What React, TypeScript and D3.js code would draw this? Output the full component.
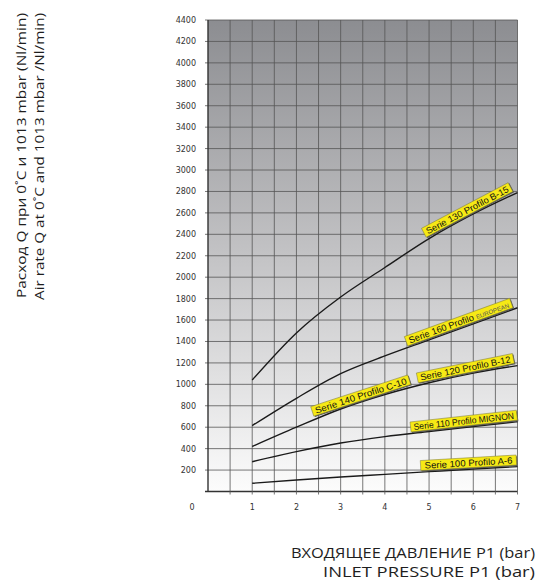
import React from 'react';
import * as d3 from 'd3';

const pressures = [1, 2, 3, 4, 5, 6, 7];
const serie130 = [1040, 1480, 1815, 2090, 2360, 2590, 2790];
const serie160 = [615, 870, 1100, 1265, 1415, 1565, 1715];
const serie120 = [420, 600, 770, 905, 1015, 1105, 1175];
const serie110 = [278, 372, 452, 512, 560, 606, 651];
const serie100 = [77, 107, 135, 160, 185, 210, 232];

const seriesList = [serie130, serie160, serie120, serie110, serie100];

const yTicks = d3.range(0, 4401, 200);
const xTicks = [0, 1, 2, 3, 4, 5, 6, 7];
const xGrid = d3.range(0.5, 7.01, 0.5);

const curveLabels = [
  { series: 0, main: 'Serie 130 Profilo B-15', small: '', at: 5.93, width: 98, tl: 92 },
  { series: 1, main: 'Serie 160 Profilo ', small: 'EUROPEAN', at: 5.72, width: 112, tl: 106 },
  { series: 2, main: 'Serie 120 Profilo B-12', small: '', at: 5.85, width: 98, tl: 92 },
  { series: 2, main: 'Serie 140 Profilo C-10', small: '', at: 3.5, width: 102, tl: 96 },
  { series: 3, main: 'Serie 110 Profilo MIGNON', small: '', at: 5.8, width: 107, tl: 101 },
  { series: 4, main: 'Serie 100 Profilo A-6', small: '', at: 5.9, width: 96, tl: 88 },
];

const yTitleLines = [
  'Расход Q при 0˚C и 1013 mbar (Nl/min)',
  'Air rate Q at 0˚C and 1013 mbar /Nl/min)',
];
const yTitleLengths = [285, 287];
const xTitleLines = ['ВХОДЯЩЕЕ ДАВЛЕНИЕ P1 (bar)', 'INLET PRESSURE P1 (bar)'];
const xTitleLengths = [244, 212];

export default function App() {
  const W = 537;
  const H = 584;
  const x = d3.scaleLinear().domain([0, 7]).range([208, 517.5]);
  const y = d3.scaleLinear().domain([0, 4400]).range([491.5, 20]);
  const line = d3
    .line<number>()
    .x((_, i) => x(pressures[i]))
    .y((d) => y(d))
    .curve(d3.curveMonotoneX);

  const valueAt = (s: number[], p: number) =>
    d3.scaleLinear().domain(pressures).range(s)(p);

  const tickFont = 'DejaVu Sans, sans-serif';
  const titleFont = 'Open Sans, Noto Sans, sans-serif';

  return (
    <svg
      width={W}
      height={H}
      style={{ position: 'absolute', left: 0, top: 0, background: '#fff' }}
    >
      <defs>
        <linearGradient id="bg" x1="0" y1="0" x2="0" y2="1">
          <stop offset="0" stopColor="#8c8d91" />
          <stop offset="0.5" stopColor="#c3c3c5" />
          <stop offset="1" stopColor="#fcfcfc" />
        </linearGradient>
      </defs>
      <rect
        x={x(0)}
        y={y(4400)}
        width={x(7) - x(0)}
        height={y(0) - y(4400)}
        fill="url(#bg)"
      />
      {/* horizontal grid */}
      {yTicks.map((t) => (
        <line
          key={'h' + t}
          x1={x(0) - 3}
          x2={x(7)}
          y1={y(t)}
          y2={y(t)}
          stroke={t === 0 ? '#333' : '#555'}
          strokeWidth={t === 0 ? 1.4 : 0.8}
        />
      ))}
      {/* vertical grid */}
      {xGrid.map((t) => (
        <line
          key={'v' + t}
          x1={x(t)}
          x2={x(t)}
          y1={y(4400)}
          y2={y(0) + 3}
          stroke="#555"
          strokeWidth={0.8}
        />
      ))}
      <line x1={x(0)} x2={x(0)} y1={y(4400)} y2={y(0)} stroke="#333" strokeWidth={1.4} />

      {/* y tick labels */}
      {yTicks.filter((t) => t > 0).map((t) => (
        <text
          key={'yl' + t}
          x={196}
          y={y(t) + 3}
          textAnchor="end"
          fontFamily={tickFont}
          fontSize={8}
          fill="#333"
        >
          {t}
        </text>
      ))}
      {/* x tick labels */}
      {xTicks.map((t) => (
        <text
          key={'xl' + t}
          x={t === 0 ? x(0) - 16 : x(t)}
          y={510}
          textAnchor="middle"
          fontFamily={tickFont}
          fontSize={8}
          fill="#333"
        >
          {t}
        </text>
      ))}

      {/* curves */}
      {seriesList.map((s, i) => (
        <path key={'c' + i} d={line(s) || ''} fill="none" stroke="#1a1a1a" strokeWidth={1.4} />
      ))}

      {/* curve labels */}
      {curveLabels.map((l, i) => {
        const s = seriesList[l.series];
        const px = x(l.at);
        const py = y(valueAt(s, l.at));
        const x1 = x(l.at - 0.4);
        const y1 = y(valueAt(s, l.at - 0.4));
        const x2 = x(l.at + 0.4);
        const y2 = y(valueAt(s, l.at + 0.4));
        const ang = (Math.atan2(y2 - y1, x2 - x1) * 180) / Math.PI;
        const h = 10;
        const off = 6.5;
        return (
          <g key={'lb' + i} transform={`translate(${px},${py}) rotate(${ang})`}>
            <rect x={-l.width / 2 + 0.8} y={-off - h / 2 + 1.2} width={l.width} height={h} fill="#555" />
            <rect x={-l.width / 2} y={-off - h / 2} width={l.width} height={h} fill="#f6e915" stroke="#7a7840" strokeWidth={0.5} />
            <text
              x={0}
              y={-off + 3.3}
              textAnchor="middle"
              fontFamily="Liberation Sans, Arial, sans-serif"
              fontSize={9}
              fill="#111"
              textLength={l.tl}
              lengthAdjust="spacingAndGlyphs"
            >
              {l.main}
              {l.small ? (
                <tspan fontSize={6} fill="#555">{l.small}</tspan>
              ) : null}
            </text>
          </g>
        );
      })}

      {/* y axis title */}
      {yTitleLines.map((t, i) => (
        <text
          key={'yt' + i}
          transform={`translate(${26 + i * 18},13) rotate(-90)`}
          textAnchor="end"
          fontFamily={titleFont}
          fontSize={13.5}
          fill="#1e1e1e"
          textLength={yTitleLengths[i]}
          lengthAdjust="spacingAndGlyphs"
        >
          {t}
        </text>
      ))}
      {/* x axis title */}
      {xTitleLines.map((t, i) => (
        <text
          key={'xt' + i}
          x={535}
          y={558 + i * 18.7}
          textAnchor="end"
          fontFamily={titleFont}
          fontSize={14}
          fill="#1e1e1e"
          textLength={xTitleLengths[i]}
          lengthAdjust="spacingAndGlyphs"
        >
          {t}
        </text>
      ))}
    </svg>
  );
}
